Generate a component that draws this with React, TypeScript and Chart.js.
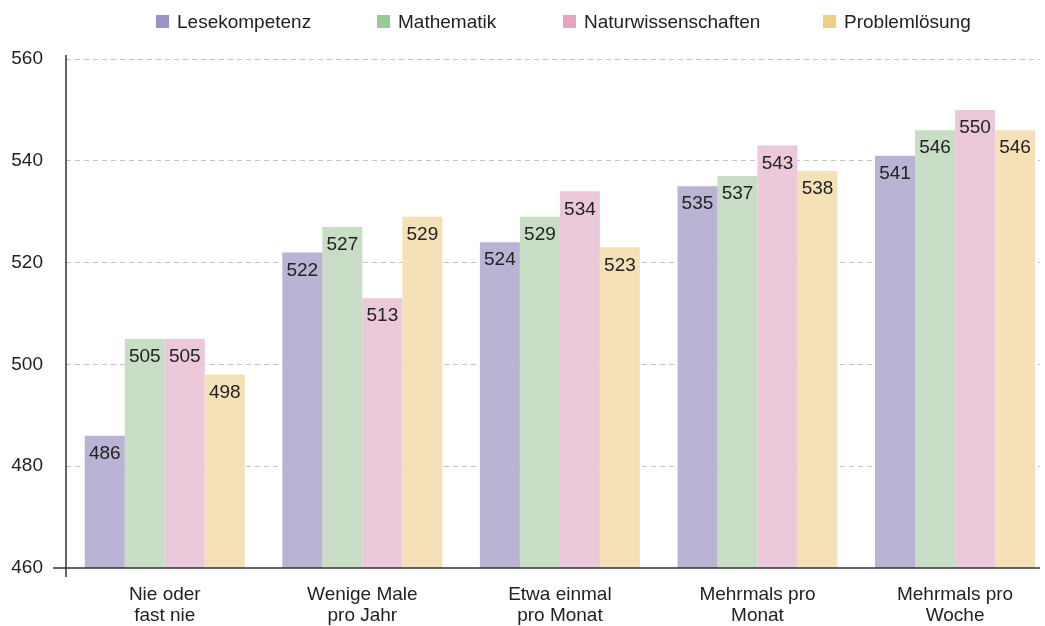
import React, { useEffect, useRef } from "react";
import { Chart, registerables } from "chart.js";

Chart.register(...registerables);

const categories: string[][] = [
  ["Nie oder", "fast nie"],
  ["Wenige Male", "pro Jahr"],
  ["Etwa einmal", "pro Monat"],
  ["Mehrmals pro", "Monat"],
  ["Mehrmals pro", "Woche"],
];

const seriesNames = ["Lesekompetenz", "Mathematik", "Naturwissenschaften", "Problemlösung"];
const lesekompetenz = [486, 522, 524, 535, 541];
const mathematik = [505, 527, 529, 537, 546];
const naturwissenschaften = [505, 513, 534, 543, 550];
const problemloesung = [498, 529, 523, 538, 546];
const yTicks = [460, 480, 500, 520, 540, 560];

const barColors = ["#bab3d3", "#c9dcc6", "#ecc9da", "#f5e1b7"];
const legendColors = ["#9d93c5", "#9cc797", "#e3a5c0", "#eecf85"];
const legendX = [156, 377, 563, 823];

const FONT = "'Liberation Sans', Arial, Helvetica, sans-serif";

const valueLabels = {
  id: "valueLabels",
  afterDatasetsDraw(chart: any) {
    const ctx = chart.ctx;
    ctx.save();
    ctx.font = `19px ${FONT}`;
    ctx.fillStyle = "#222";
    ctx.textAlign = "center";
    ctx.textBaseline = "middle";
    chart.data.datasets.forEach((ds: any, di: number) => {
      const meta = chart.getDatasetMeta(di);
      meta.data.forEach((el: any, i: number) => {
        ctx.fillText(String(ds.data[i].y), el.x, el.y + 18);
      });
    });
    ctx.restore();
  },
};

const axisLines = {
  id: "axisLines",
  afterDraw(chart: any) {
    const { ctx, chartArea } = chart;
    ctx.save();
    ctx.strokeStyle = "#333";
    ctx.lineWidth = 1.5;
    ctx.beginPath();
    ctx.moveTo(chartArea.left, chartArea.top - 4);
    ctx.lineTo(chartArea.left, chartArea.bottom + 9);
    ctx.moveTo(chartArea.left - 13, chartArea.bottom);
    ctx.lineTo(chartArea.right, chartArea.bottom);
    ctx.stroke();
    ctx.restore();
  },
};

export default function App() {
  const ref = useRef<HTMLCanvasElement>(null);

  useEffect(() => {
    document.body.style.overflow = "hidden";
    const series = [lesekompetenz, mathematik, naturwissenschaften, problemloesung];
    const chart = new Chart(ref.current!, {
      type: "bar",
      data: {
        datasets: series.map((vals, si) => ({
          label: seriesNames[si],
          data: vals.map((v, i) => ({ x: i, y: v })),
          backgroundColor: barColors[si],
          borderWidth: 0,
          categoryPercentage: 0.81,
          barPercentage: 1.0,
        })),
      },
      options: {
        responsive: false,
        animation: false,
        layout: { padding: { left: 0, right: 5, top: 59, bottom: 0 } },
        plugins: {
          legend: { display: false },
          tooltip: { enabled: false },
        },
        scales: {
          x: {
            type: "linear",
            min: -0.5,
            max: 4.43,
            offset: false,
            bounds: "data",
            grid: { display: false, drawTicks: false, offset: false },
            border: { display: false },
            afterBuildTicks: (scale: any) => {
              scale.ticks = categories.map((_, i) => ({ value: i }));
            },
            afterFit: (scale: any) => {
              scale.height = 58;
            },
            ticks: {
              autoSkip: false,
              maxRotation: 0,
              padding: 17,
              color: "#222",
              font: { family: FONT, size: 19, lineHeight: 1.07 },
              callback: (value: any) => categories[Math.round(Number(value))] ?? "",
            },
          },
          y: {
            type: "linear",
            min: 460,
            max: 560,
            afterBuildTicks: (scale: any) => {
              scale.ticks = yTicks.map((v) => ({ value: v }));
            },
            afterFit: (scale: any) => {
              scale.width = 66;
            },
            grid: {
              color: (c: any) => (c.tick && c.tick.value === 460 ? "rgba(0,0,0,0)" : "#c4c4c4"),
              lineWidth: 1,
              drawTicks: true,
              tickLength: 13,
              tickColor: "rgba(0,0,0,0)",
            },
            border: { display: false, dash: [5, 4] },
            ticks: {
              padding: 10,
              color: "#222",
              font: { family: FONT, size: 19 },
            },
          },
        },
      },
      plugins: [valueLabels, axisLines],
    } as any);
    return () => chart.destroy();
  }, []);

  return (
    <div style={{ position: "absolute", left: 0, top: 0, width: 1045, height: 626, background: "#fff" }}>
      <canvas ref={ref} width={1045} height={626} style={{ display: "block" }} />
      {seriesNames.map((name, i) => (
        <div
          key={name}
          style={{ position: "absolute", left: legendX[i], top: 12, height: 20, whiteSpace: "nowrap" }}
        >
          <span
            style={{
              position: "absolute",
              left: 0,
              top: 3,
              width: 13,
              height: 13,
              background: legendColors[i],
            }}
          />
          <span
            style={{
              position: "absolute",
              left: 21,
              top: 0,
              font: `19px ${FONT}`,
              lineHeight: "19px",
              color: "#222",
            }}
          >
            {name}
          </span>
        </div>
      ))}
    </div>
  );
}
